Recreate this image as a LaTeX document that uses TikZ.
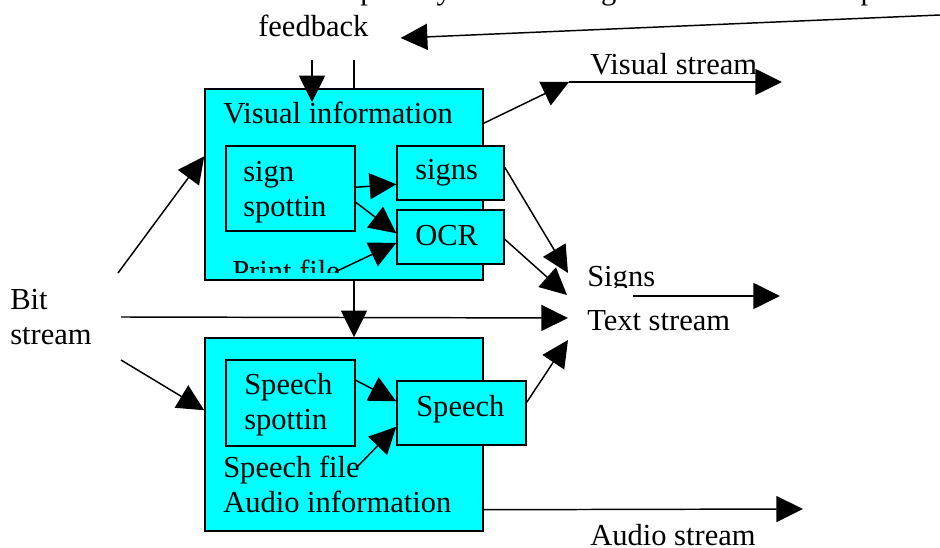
\documentclass[tikz,border=0pt]{standalone}
\usepackage{fontspec}
\setmainfont{Liberation Serif}
\usetikzlibrary{positioning,calc,fit,arrows.meta}
\definecolor{aqua}{RGB}{0,255,255}
\tikzstyle{every node}=[font=\fontsize{22.9}{26.5}\selectfont, inner sep=0pt]
\tikzstyle{panel}=[rectangle, draw=black, fill=aqua, line width=1.1pt,
  inner sep=0pt]
\tikzstyle{txt}=[anchor=base west, align=left]
\tikzstyle{line}=[draw, line width=1.1pt, -{Triangle[length=20pt,width=19.5pt]}]
\tikzstyle{plain}=[draw, line width=1.1pt]

\begin{document}
\begin{tikzpicture}[x=0.75pt, y=-0.75pt]
    \useasboundingbox (0,0) rectangle (940,548);
    % the two processing blocks
    \node (vis) [panel, fit={(205,89) (483,280)}] {};
    \node (aud) [panel, fit={(205,338) (483,531)}] {};
    \node (spot) [panel, fit={(226,146) (355,231)}] {};
    \node (signs) [panel, fit={(397,146) (504,200)}] {};
    \node (ocr) [panel, fit={(397,210) (504,264)}] {};
    \node (sspot) [panel, fit={(226,360) (355,446)}] {};
    \node (speech) [panel, fit={(397,381) (526,445)}] {};

    \node (visinfo) [txt] at (223,124) {Visual information};
    \node (spottxt) [txt] at (243,217) {sign\\spottin};
    \node (signstxt) [txt] at (415,180) {signs};
    \node (ocrtxt) [txt] at (415,246) {OCR};
    \node (sspottxt) [txt] at (244,430) {Speech\\spottin};
    \node (speechtxt) [txt] at (416,417) {Speech};
    \node (sfile) [txt] at (223,513) {Speech file\\Audio information};
    \begin{scope}
      \clip (205,250) rectangle (396,273);
      \node (printf) [txt] at (232,282) {Print file};
    \end{scope}

    \node (topline) [txt] at (360,0) {priority for matching with the relevant input};
    \node (fb) [txt] at (258,37) {feedback};
    \node (bit) [txt] at (10,345) {Bit\\stream};
    \node (vstxt) [txt] at (590,75) {Visual stream};
    \begin{scope}
      \clip (580,255) rectangle (700,288);
      \node (sgtxt) [txt] at (587,287) {Signs};
    \end{scope}
    \node (tstxt) [txt] at (587,331) {Text stream};
    \node (astxt) [txt] at (590,546) {Audio stream};

    \coordinate (fbin) at (940,15);
    \coordinate (fbdown) at (312,60);
    \coordinate (fbup) at (354,60);
    \coordinate (vsbend) at (569,82);
    \coordinate (vsend) at (782,82);
    \coordinate (tsig) at (568,273);
    \coordinate (tocr) at (567,295);
    \coordinate (tbit) at (568,318);
    \coordinate (tspeech) at (568,340);
    \coordinate (sgfrom) at (633,296);
    \coordinate (sgto) at (780,296);
    \coordinate (bvis) at (118,273);
    \coordinate (bmid) at (121,317);
    \coordinate (baud) at (121,360);
    \coordinate (asend) at (803,509);

    % feedback
    \draw[line] (fbin) -- ($(fb.base east)+(32,1)$);
    \draw[line] (fbdown) -- ($(fbdown |- vis.north)+(0,14)$);
    \draw[plain] (fbup) -- (fbup |- vis.north);
    \draw[line] (fbup |- vis.south) -- (fbup |- aud.north);

    % bit stream in
    \draw[line] (bvis) -- ($(vis.north west)+(0,68)$);
    \draw[line] (bmid) -- (tbit);
    \draw[line] (baud) -- ($(aud.north west)+(0,73)$);

    % visual part
    \draw[line] ($(spot.north east)+(0,42)$) -- ($(signs.north west)+(0,39)$);
    \draw[line] ($(spot.north east)+(0,57)$) -- ($(ocr.north west)+(0,24)$);
    \draw[line] ($(printf.base west)+(103,-10)$) -- ($(ocr.west)+(0,6)$);
    \draw[line] ($(vis.north east)+(0,35)$) -- (vsbend);
    \draw[line] (vsbend) -- (vsend);
    \draw[line] ($(signs.north east)+(0,22)$) -- (tsig);
    \draw[line] ($(ocr.north east)+(0,30)$) -- (tocr);
    \draw[line] (sgfrom) -- (sgto);

    % audio part
    \draw[line] ($(sspot.north east)+(0,21)$) -- ($(speech.north west)+(0,21)$);
    \draw[line] ($(sfile.base west)+(134,-46)$) -- ($(speech.south west)+(0,-19)$);
    \draw[line] ($(speech.north east)+(0,22)$) -- (tspeech);
    \draw[line] ($(aud.south east)+(0,-22)$) -- (asend);
\end{tikzpicture}
\end{document}
